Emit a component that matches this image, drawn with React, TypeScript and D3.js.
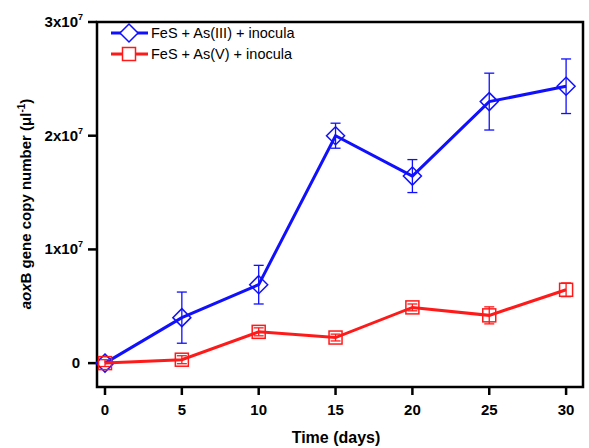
import React from 'react';
import * as d3 from 'd3';

const days = [0, 5, 10, 15, 20, 25, 30];
const as3Values = [0, 4.0e6, 6.9e6, 2.0e7, 1.645e7, 2.3e7, 2.435e7];
const as3Errors = [0, 2.25e6, 1.7e6, 1.1e6, 1.45e6, 2.5e6, 2.4e6];
const as5Values = [0, 0.3e6, 2.75e6, 2.25e6, 4.9e6, 4.2e6, 6.45e6];
const as5Errors = [0.3e6, 0.35e6, 0.35e6, 0.3e6, 0.3e6, 0.75e6, 0.6e6];
const yTicks = [0, 1e7, 2e7, 3e7];
const seriesNames = ['FeS + As(III) + inocula', 'FeS + As(V) + inocula'];

const W = 589;
const H = 448;
const left = 97;
const right = 583;
const top = 22;
const bottom = 387;

export default function App() {
  const ref = React.useRef<SVGSVGElement>(null);

  React.useEffect(() => {
    const svg = d3.select(ref.current);
    svg.selectAll('*').remove();

    const x = d3.scaleLinear([-0.52, 31.1], [left, right]);
    const y = d3.scaleLinear([-0.21e7, 3e7], [bottom, top]);
    const font = 'Arial, "Liberation Sans", sans-serif';

    // frame
    svg.append('rect')
      .attr('x', left).attr('y', top)
      .attr('width', right - left).attr('height', bottom - top)
      .attr('fill', 'none').attr('stroke', '#000').attr('stroke-width', 2.5);

    // x axis ticks
    const xg = svg.append('g').attr('font-family', font);
    days.forEach((d) => {
      xg.append('line')
        .attr('x1', x(d)).attr('x2', x(d))
        .attr('y1', bottom).attr('y2', bottom + 8)
        .attr('stroke', '#000').attr('stroke-width', 2.5);
      xg.append('text')
        .attr('x', x(d)).attr('y', bottom + 28)
        .attr('text-anchor', 'middle')
        .attr('font-size', 15).attr('font-weight', 'bold')
        .text(d);
    });

    // y axis ticks, labels as Nx10^7
    const yg = svg.append('g').attr('font-family', font);
    yTicks.forEach((v) => {
      yg.append('line')
        .attr('x1', left - 9).attr('x2', left)
        .attr('y1', y(v)).attr('y2', y(v))
        .attr('stroke', '#000').attr('stroke-width', 2.5);
      const t = yg.append('text')
        .attr('x', 83).attr('y', y(v) + 5)
        .attr('text-anchor', 'end')
        .attr('font-size', 15).attr('font-weight', 'bold');
      if (v === 0) {
        t.attr('x', 80).text('0');
      } else {
        t.append('tspan').text(`${v / 1e7}x10`);
        t.append('tspan').attr('font-size', 9).attr('dy', -7).text('7');
      }
    });

    // axis titles
    svg.append('text')
      .attr('x', 336).attr('y', 443)
      .attr('text-anchor', 'middle')
      .attr('font-family', font).attr('font-size', 16).attr('font-weight', 'bold')
      .text('Time (days)');

    const yt = svg.append('text')
      .attr('transform', 'translate(31,204) rotate(-90)')
      .attr('text-anchor', 'middle')
      .attr('font-family', font).attr('font-size', 15).attr('font-weight', 'bold');
    yt.append('tspan').attr('font-style', 'italic').text('aox');
    yt.append('tspan').text('B gene copy number (\u03bcl');
    yt.append('tspan').attr('font-size', 10).attr('dy', -6).text('-1');
    yt.append('tspan').attr('dy', 6).text(')');

    const line = d3.line<number>()
      .x((_, i) => x(days[i]))
      .y((d) => y(d));

    const series = [
      { values: as3Values, errors: as3Errors, color: '#1010ff', shape: 'diamond' },
      { values: as5Values, errors: as5Errors, color: '#ff1a1a', shape: 'square' },
    ];

    const diamond = (cx: number, cy: number, r: number) =>
      `M${cx},${cy - r}L${cx + r},${cy}L${cx},${cy + r}L${cx - r},${cy}Z`;

    series.forEach((s) => {
      const g = svg.append('g');
      g.append('path')
        .attr('d', line(s.values))
        .attr('fill', 'none').attr('stroke', s.color).attr('stroke-width', 3);

      // error bars
      s.values.forEach((v, i) => {
        const e = s.errors[i];
        if (e <= 0) return;
        const cx = x(days[i]);
        const eg = g.append('g').attr('stroke', s.color).attr('stroke-width', 1.3);
        eg.append('line').attr('x1', cx).attr('x2', cx).attr('y1', y(v - e)).attr('y2', y(v + e));
        [v - e, v + e].forEach((w) => {
          eg.append('line').attr('x1', cx - 5).attr('x2', cx + 5).attr('y1', y(w)).attr('y2', y(w));
        });
      });

      // markers
      s.values.forEach((v, i) => {
        const cx = x(days[i]);
        const cy = y(v);
        if (s.shape === 'diamond') {
          g.append('path').attr('d', diamond(cx, cy, 9))
            .attr('fill', 'none').attr('stroke', s.color).attr('stroke-width', 1.5);
        } else {
          g.append('rect').attr('x', cx - 6.5).attr('y', cy - 6.5)
            .attr('width', 13).attr('height', 13)
            .attr('fill', 'none').attr('stroke', s.color).attr('stroke-width', 1.5);
        }
      });
    });

    // legend
    const lg = svg.append('g');
    series.forEach((s, i) => {
      const ly = 33 + i * 21;
      lg.append('line')
        .attr('x1', 111).attr('x2', 148).attr('y1', ly).attr('y2', ly)
        .attr('stroke', s.color).attr('stroke-width', 3);
      if (s.shape === 'diamond') {
        lg.append('path').attr('d', diamond(129, ly, 9))
          .attr('fill', '#fff').attr('stroke', s.color).attr('stroke-width', 1.5);
      } else {
        lg.append('rect').attr('x', 122.5).attr('y', ly - 6.5).attr('width', 13).attr('height', 13)
          .attr('fill', '#fff').attr('stroke', s.color).attr('stroke-width', 1.5);
      }
      lg.append('text')
        .attr('x', 151).attr('y', ly + 5)
        .attr('font-family', font).attr('font-size', 14.5)
        .text(seriesNames[i]);
    });
  }, []);

  return (
    <svg ref={ref} width={W} height={H} style={{ position: 'absolute', left: 0, top: 0, background: '#fff' }} />
  );
}
